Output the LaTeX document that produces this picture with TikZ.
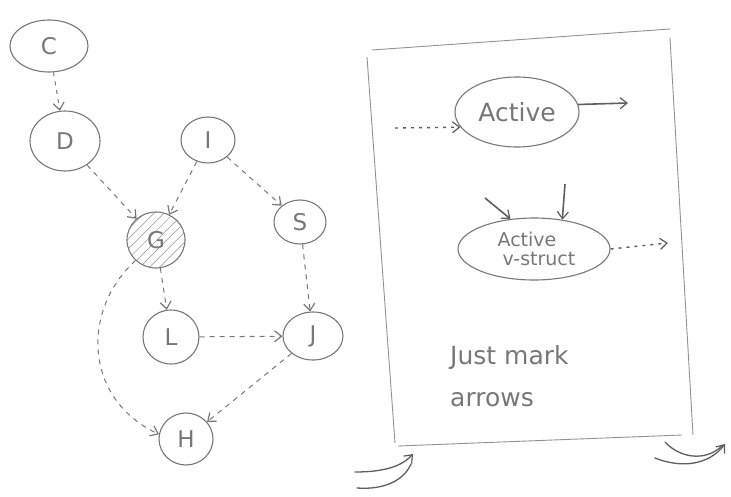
\documentclass[tikz,border=0pt]{standalone}
\usepackage{fontspec}
\setmainfont{DejaVu Sans}
\usetikzlibrary{shapes.geometric,arrows.meta,patterns.meta}

\definecolor{pencil}{HTML}{777777}
\definecolor{pencildark}{HTML}{5E5E5E}

\tikzset{
  var/.style={ellipse, draw=pencil, line width=1.1pt, inner sep=0pt,
    text=pencil, font=\fontsize{23}{25}\selectfont},
  tip/.style={-{Straight Barb[length=7pt,width=11pt,line width=1.2pt]}},
  link/.style={draw=pencil, line width=1pt, dash pattern=on 5pt off 5pt, tip},
  dots/.style={draw=pencildark, line width=1.4pt, dash pattern=on 3pt off 5pt, tip},
  solid arrow/.style={draw=pencildark, line width=1.6pt, tip},
  frame/.style={draw=pencil!80, line width=0.9pt},
  note/.style={text=pencil, font=\fontsize{25}{27}\selectfont, inner sep=0pt},
  curl/.style={draw=pencildark, line width=1.3pt, line cap=round}
}

\begin{document}
\begin{tikzpicture}[x=1pt, y=-1pt]
  \useasboundingbox (0,0) rectangle (731,496);

  % ---- Bayesian network ----
  \node[var, minimum width=78pt, minimum height=52pt] (C) at (49,46)  {C};
  \node[var, minimum width=70pt, minimum height=60pt] (D) at (65,141) {D};
  \node[var, minimum width=54pt, minimum height=46pt] (I) at (208,140) {I};
  \node[var, minimum width=58pt, minimum height=56pt,
        pattern={Lines[angle=45,distance=7pt,line width=0.5pt]}, pattern color=pencil!80] (G) at (156,240) {G};
  \node[var, minimum width=52pt, minimum height=44pt] (S) at (300,222) {S};
  \node[var, minimum width=56pt, minimum height=54pt] (L) at (171,337) {L};
  \node[var, minimum width=60pt, minimum height=48pt] (J) at (313,336) {J};
  \node[var, minimum width=54pt, minimum height=52pt] (H) at (186,439) {H};

  \draw[link, dash pattern=on 4pt off 5pt] (C) -- (D);
  \draw[link] (D) -- (G);
  \draw[link] (I) -- (G);
  \draw[link] (I) -- (S);
  \draw[link] (G) -- (L);
  \draw[link] (S) -- (J);
  \draw[link] (L) -- (J);
  \draw[link] (J) -- (H);
  \draw[link] (G.225) .. controls +(-55,50) and +(-75,-35) .. (H.170);

  % ---- legend panel ----
  \draw[frame] (372,50) -- (670,29);
  \draw[frame] (670,38) -- (693,435);
  \draw[frame] (398,446) -- (682,435);
  \draw[frame] (367,57) -- (395,443);

  \node[var, minimum width=124pt, minimum height=70pt, font=\fontsize{25}{27}\selectfont] (act) at (517,112) {Active};
  \coordinate (actin) at (395,128);
  \coordinate (actout) at (628,103);
  \draw[dots] (actin) -- (act.195);
  \draw[solid arrow] (act.7) -- (actout);

  \node[var, minimum width=152pt, minimum height=62pt, align=center,
        font=\fontsize{19}{19}\selectfont] (vs) at (534,249)
        {\hspace*{-14pt}Active\\\hspace*{10pt}v-struct};
  \coordinate (vin1) at (485,198);
  \coordinate (vin2) at (565,184);
  \coordinate (vout) at (668,243);
  \draw[solid arrow] (vin1) -- (vs.128);
  \draw[solid arrow] (vin2) -- (vs.46);
  \draw[dots] (vs.east) -- (vout);

  \node[note, anchor=west] (just) at (450,357) {Just mark};
  \node[note, anchor=west] (arr) at (450,400) {arrows};

  % ---- turn-over marks under the panel ----
  \draw[curl, tip] (355,472) .. controls (385,472) and (402,466) .. (413,454);
  \draw[curl] (357,488) .. controls (385,490) and (404,480) .. (411,464);
  \draw[curl] (665,442) .. controls (680,458) and (705,462) .. (722,446);
  \draw[curl, tip] (655,458) .. controls (680,468) and (708,466) .. (725,444);
\end{tikzpicture}
\end{document}
